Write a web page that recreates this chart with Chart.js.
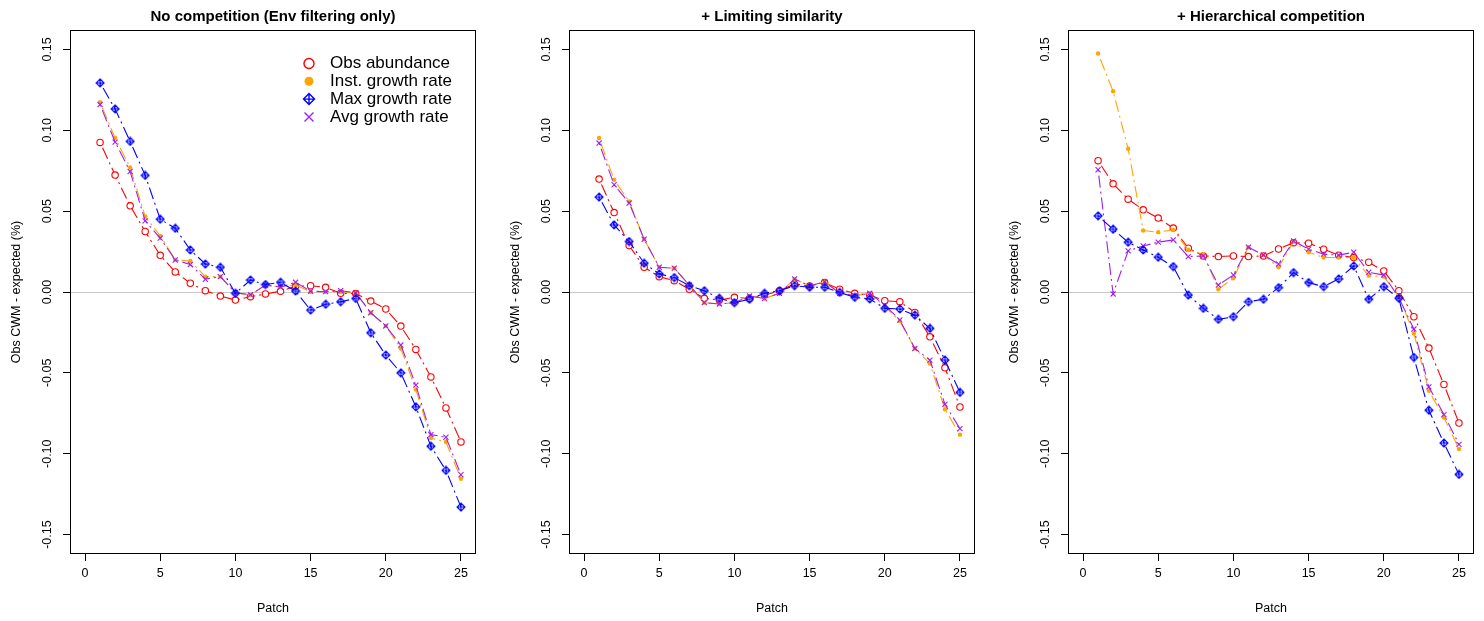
<!DOCTYPE html>
<html>
<head>
<meta charset="utf-8">
<script src="https://cdn.jsdelivr.net/npm/chart.js@4"></script>
<style>
  html, body { margin: 0; padding: 0; background: #fff; overflow: hidden; }
  .panel { position: absolute; top: 0; width: 499px; height: 621px; }
</style>
</head>
<body>
<div class="panel" style="left:0px"><canvas id="c1" width="499" height="621"></canvas></div>
<div class="panel" style="left:499px"><canvas id="c2" width="499" height="621"></canvas></div>
<div class="panel" style="left:998px"><canvas id="c3" width="499" height="621"></canvas></div>
<script>
const patches = [1, 2, 3, 4, 5, 6, 7, 8, 9, 10, 11, 12, 13, 14, 15, 16, 17, 18, 19, 20, 21, 22, 23, 24, 25];
const xTicks = [0, 5, 10, 15, 20, 25];
const yTicks = [-0.15, -0.10, -0.05, 0, 0.05, 0.10, 0.15];
const seriesNames = ['Obs abundance', 'Inst. growth rate', 'Max growth rate', 'Avg growth rate'];
const panelTitles = ['No competition (Env filtering only)', '+ Limiting similarity', '+ Hierarchical competition'];

// No competition
const obs1 = [0.0925, 0.0723, 0.0533, 0.0374, 0.0227, 0.0124, 0.0054, 0.0008, -0.0025, -0.0050, -0.0029, -0.0012, 0.0005, 0.0035, 0.0039, 0.0029, -0.0008, -0.0010, -0.0056, -0.0105, -0.0211, -0.0355, -0.0525, -0.0717, -0.0927];
const inst1 = [0.1173, 0.0952, 0.0770, 0.0467, 0.0347, 0.0200, 0.0192, 0.0095, 0.0095, -0.0005, -0.0019, 0.0043, 0.0033, 0.0043, 0.0002, 0.0002, 0.0000, -0.0005, -0.0128, -0.0210, -0.0349, -0.0603, -0.0903, -0.0927, -0.1155];
const max1 = [0.1293, 0.1132, 0.0931, 0.0721, 0.0450, 0.0394, 0.0260, 0.0173, 0.0153, -0.0008, 0.0074, 0.0046, 0.0060, 0.0006, -0.0112, -0.0076, -0.0060, -0.0040, -0.0252, -0.0390, -0.0500, -0.0710, -0.0954, -0.1103, -0.1330];
const avg1 = [0.1159, 0.0927, 0.0745, 0.0440, 0.0333, 0.0198, 0.0170, 0.0079, 0.0095, -0.0005, -0.0017, 0.0043, 0.0030, 0.0060, 0.0005, 0.0002, 0.0008, -0.0005, -0.0128, -0.0210, -0.0328, -0.0576, -0.0882, -0.0898, -0.1130];

// + Limiting similarity
const obs2 = [0.0698, 0.0491, 0.0287, 0.0153, 0.0095, 0.0070, 0.0017, -0.0039, -0.0050, -0.0033, -0.0040, -0.0020, 0.0008, 0.0050, 0.0037, 0.0058, 0.0017, -0.0008, -0.0019, -0.0054, -0.0060, -0.0126, -0.0277, -0.0469, -0.0711];
const inst2 = [0.0952, 0.0694, 0.0560, 0.0326, 0.0153, 0.0147, 0.0043, -0.0066, -0.0074, -0.0066, -0.0025, -0.0040, -0.0008, 0.0081, 0.0037, 0.0064, -0.0008, -0.0023, -0.0008, -0.0090, -0.0180, -0.0349, -0.0442, -0.0725, -0.0882];
const max2 = [0.0587, 0.0415, 0.0312, 0.0178, 0.0112, 0.0089, 0.0039, 0.0008, -0.0039, -0.0066, -0.0045, -0.0008, 0.0008, 0.0039, 0.0029, 0.0029, -0.0002, -0.0033, -0.0043, -0.0101, -0.0105, -0.0143, -0.0225, -0.0421, -0.0621];
const avg2 = [0.0921, 0.0663, 0.0550, 0.0326, 0.0153, 0.0147, 0.0043, -0.0066, -0.0074, -0.0066, -0.0025, -0.0040, -0.0008, 0.0081, 0.0037, 0.0064, -0.0008, -0.0023, -0.0008, -0.0081, -0.0173, -0.0349, -0.0421, -0.0694, -0.0845];

// + Hierarchical competition
const obs3 = [0.0812, 0.0669, 0.0574, 0.0508, 0.0457, 0.0395, 0.0271, 0.0223, 0.0219, 0.0223, 0.0219, 0.0223, 0.0266, 0.0305, 0.0302, 0.0265, 0.0228, 0.0213, 0.0184, 0.0130, 0.0008, -0.0153, -0.0347, -0.0572, -0.0810];
const inst3 = [0.1475, 0.1241, 0.0886, 0.0380, 0.0370, 0.0384, 0.0260, 0.0234, 0.0017, 0.0085, 0.0277, 0.0229, 0.0153, 0.0310, 0.0246, 0.0213, 0.0213, 0.0213, 0.0101, 0.0095, -0.0029, -0.0256, -0.0611, -0.0776, -0.0971];
const max3 = [0.0471, 0.0388, 0.0308, 0.0260, 0.0215, 0.0157, -0.0019, -0.0101, -0.0169, -0.0153, -0.0060, -0.0045, 0.0027, 0.0120, 0.0058, 0.0033, 0.0081, 0.0161, -0.0045, 0.0033, -0.0039, -0.0405, -0.0731, -0.0934, -0.1128];
const avg3 = [0.0756, -0.0012, 0.0254, 0.0285, 0.0308, 0.0322, 0.0219, 0.0223, 0.0043, 0.0105, 0.0277, 0.0229, 0.0173, 0.0316, 0.0265, 0.0234, 0.0228, 0.0246, 0.0122, 0.0105, -0.0035, -0.0229, -0.0587, -0.0758, -0.0942];

const FONT = '"Liberation Sans", Arial, Helvetica, sans-serif';
const RED = '#ff0000', ORANGE = '#ffa500', BLUE = '#0000ff', PURPLE = '#a020f0';
const DASH = [2, 4, 12, 4];

function diamondPlus(size, color, lw) {
  const c = document.createElement('canvas');
  c.width = size; c.height = size;
  const g = c.getContext('2d');
  const m = size / 2, r = size / 2 - 1;
  g.strokeStyle = color;
  g.lineWidth = lw;
  g.beginPath();
  g.moveTo(m, m - r); g.lineTo(m + r, m); g.lineTo(m, m + r); g.lineTo(m - r, m); g.closePath();
  g.moveTo(m, m - r); g.lineTo(m, m + r);
  g.moveTo(m - r, m); g.lineTo(m + r, m);
  g.stroke();
  return c;
}
const bluePt = diamondPlus(10, BLUE, 1.1);

function toXY(vals) {
  return patches.map((p, i) => ({ x: p, y: vals[i] }));
}

function makeSets(obs, inst, maxg, avg) {
  return [
    { label: seriesNames[0], data: toXY(obs), borderColor: RED, backgroundColor: RED,
      pointStyle: 'circle', pointRadius: 3.2, pointBorderWidth: 1.1, pointBorderColor: RED,
      pointBackgroundColor: '#ffffff', borderWidth: 1.1, borderDash: DASH, order: 4 },
    { label: seriesNames[1], data: toXY(inst), borderColor: ORANGE, backgroundColor: ORANGE,
      pointStyle: 'circle', pointRadius: 2.2, pointBorderWidth: 0, pointBackgroundColor: ORANGE,
      borderWidth: 1.1, borderDash: DASH, order: 3 },
    { label: seriesNames[2], data: toXY(maxg), borderColor: BLUE, backgroundColor: BLUE,
      pointStyle: bluePt, pointRadius: 4, borderWidth: 1.1, borderDash: DASH, order: 1 },
    { label: seriesNames[3], data: toXY(avg), borderColor: PURPLE, backgroundColor: PURPLE,
      pointStyle: 'crossRot', pointRadius: 3.6, pointBorderWidth: 1.1, pointBorderColor: PURPLE,
      borderWidth: 1.1, borderDash: DASH, order: 2 }
  ];
}

// box around plot + rotated y tick labels (R style)
const frame = {
  id: 'frame',
  afterDraw(chart) {
    const { ctx, chartArea: a, scales } = chart;
    ctx.save();
    ctx.strokeStyle = '#000';
    ctx.lineWidth = 1;
    ctx.strokeRect(Math.round(a.left) + 0.5, Math.round(a.top) + 0.5,
      Math.round(a.right - a.left) - 1, Math.round(a.bottom - a.top) - 1);
    ctx.fillStyle = '#000';
    ctx.font = '12.5px ' + FONT;
    ctx.textAlign = 'center';
    ctx.textBaseline = 'middle';
    yTicks.forEach(v => {
      const y = scales.y.getPixelForValue(v);
      ctx.save();
      ctx.translate(a.left - 22, y);
      ctx.rotate(-Math.PI / 2);
      ctx.fillText(v.toFixed(2), 0, 0);
      ctx.restore();
    });
    ctx.restore();
  }
};

// legend inside the first panel
const innerLegend = {
  id: 'innerLegend',
  afterDraw(chart) {
    const { ctx } = chart;
    const sx = 309, tx = 330, y0 = 63.5, step = 17.8;
    ctx.save();
    ctx.font = '17px ' + FONT;
    ctx.textBaseline = 'middle';
    ctx.textAlign = 'left';
    chart.data.datasets.forEach((ds, i) => {
      const y = y0 + i * step;
      ctx.strokeStyle = ds.borderColor;
      ctx.fillStyle = ds.borderColor;
      ctx.lineWidth = 1.4;
      ctx.beginPath();
      if (i === 0) {
        ctx.arc(sx, y, 5, 0, Math.PI * 2);
        ctx.stroke();
      } else if (i === 1) {
        ctx.arc(sx, y, 4.5, 0, Math.PI * 2);
        ctx.fill();
      } else if (i === 2) {
        const r = 5.5;
        ctx.moveTo(sx, y - r); ctx.lineTo(sx + r, y); ctx.lineTo(sx, y + r); ctx.lineTo(sx - r, y); ctx.closePath();
        ctx.moveTo(sx, y - r); ctx.lineTo(sx, y + r);
        ctx.moveTo(sx - r, y); ctx.lineTo(sx + r, y);
        ctx.stroke();
      } else {
        const r = 4.5;
        ctx.moveTo(sx - r, y - r); ctx.lineTo(sx + r, y + r);
        ctx.moveTo(sx + r, y - r); ctx.lineTo(sx - r, y + r);
        ctx.stroke();
      }
      ctx.fillStyle = '#000';
      ctx.fillText(ds.label, tx, y);
    });
    ctx.restore();
  }
};

function makeChart(id, title, sets, withLegend) {
  const plugins = [frame];
  if (withLegend) plugins.push(innerLegend);
  return new Chart(document.getElementById(id), {
    type: 'line',
    data: { datasets: sets },
    options: {
      responsive: false,
      animation: false,
      events: [],
      layout: { padding: { left: 0, right: 23, top: 0, bottom: 0 } },
      elements: { line: { tension: 0, fill: false } },
      plugins: {
        legend: { display: false },
        tooltip: { enabled: false },
        title: {
          display: true, text: title, fullSize: false, color: '#000',
          font: { family: FONT, size: 15, weight: 'bold' },
          padding: { top: 8, bottom: 4 }
        }
      },
      scales: {
        x: {
          type: 'linear', min: -1, max: 26,
          afterBuildTicks: s => { s.ticks = xTicks.map(v => ({ value: v })); },
          afterFit: s => { s.height = 67; },
          ticks: { color: '#000', font: { family: FONT, size: 12.5 }, padding: 5, maxRotation: 0, autoSkip: false },
          grid: { color: 'rgba(0,0,0,0)', tickColor: '#000', tickLength: 7, tickWidth: 1 },
          border: { display: false },
          title: { display: true, text: 'Patch', color: '#000', font: { family: FONT, size: 12.5 }, padding: { top: 0, bottom: 4.5 } }
        },
        y: {
          type: 'linear', min: -0.162, max: 0.162,
          afterBuildTicks: s => { s.ticks = yTicks.map(v => ({ value: v })); },
          afterFit: s => { s.width = 70; },
          ticks: { display: false },
          grid: {
            color: c => (c.tick && Math.abs(c.tick.value) < 1e-9) ? '#c8c8c8' : 'rgba(0,0,0,0)',
            tickColor: '#000', tickLength: 7, tickWidth: 1, lineWidth: 1
          },
          border: { display: false },
          title: { display: true, text: 'Obs CWM - expected (%)', color: '#000', font: { family: FONT, size: 12.5 }, padding: { top: 9.5, bottom: 0 } }
        }
      }
    },
    plugins: plugins
  });
}

makeChart('c1', panelTitles[0], makeSets(obs1, inst1, max1, avg1), true);
makeChart('c2', panelTitles[1], makeSets(obs2, inst2, max2, avg2), false);
makeChart('c3', panelTitles[2], makeSets(obs3, inst3, max3, avg3), false);
</script>
</body>
</html>
